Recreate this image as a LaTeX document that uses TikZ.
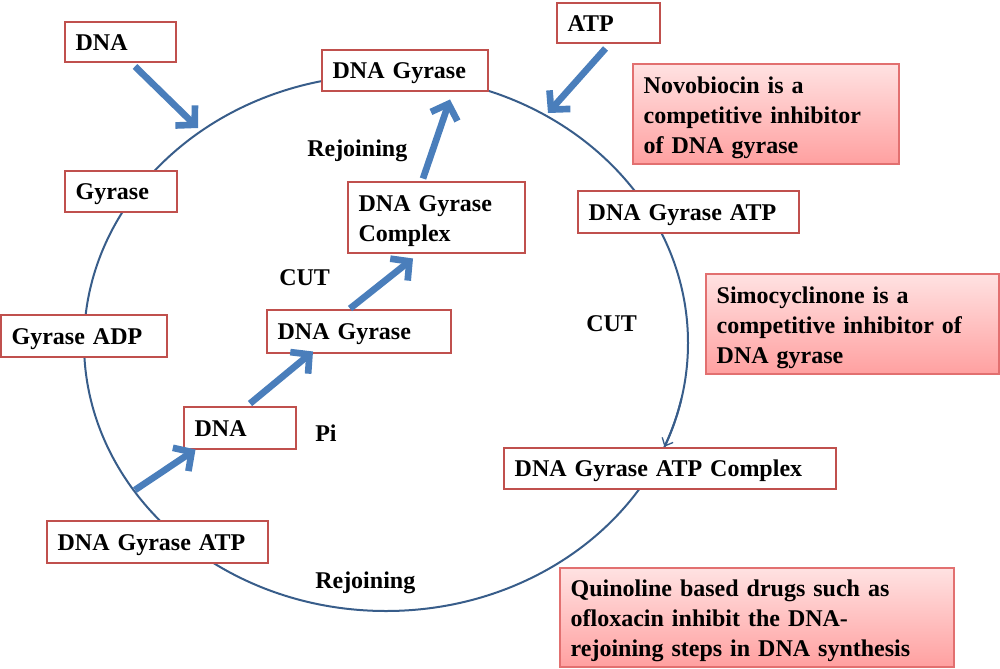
\documentclass[tikz,border=0pt]{standalone}
\usepackage{fontspec}
\setmainfont{Liberation Serif}
\usetikzlibrary{arrows.meta,calc}
\definecolor{boxred}{RGB}{192,80,77}
\definecolor{ringblue}{RGB}{56,93,138}
\definecolor{arrowblue}{RGB}{74,126,187}
\definecolor{pinktop}{RGB}{255,226,226}
\definecolor{pinkbot}{RGB}{255,160,160}
\definecolor{pinkedge}{RGB}{226,112,112}
\newcommand\firststrut{\rule{0pt}{17.5pt}}
\tikzset{
  txt/.style={font=\bfseries\fontsize{18}{22.5}\selectfont},
  rbox/.style={txt, draw=boxred, line width=2.2pt, fill=white, align=left, inner xsep=8pt, inner ysep=0pt},
  one/.style={text height=12pt, text depth=0pt},
  pbox/.style={txt, draw=pinkedge, line width=0.8pt, top color=pinktop, bottom color=pinkbot, align=left, inner xsep=8pt, inner ysep=0pt},
  lbl/.style={txt, anchor=base west, inner sep=0pt},
  bigarrow/.style={draw=arrowblue, line width=5pt, -{Straight Barb[length=10pt,width=21pt]}},
  ring/.style={draw=ringblue, line width=1.5pt}
}
\begin{document}
\begin{tikzpicture}[x=0.75pt,y=-0.75pt]
\useasboundingbox (0,0) rectangle (1000,668);
% cycle
\draw[ring] (386,343) ellipse [x radius=302, y radius=268];
\draw[ring, -{Straight Barb[length=5pt,width=9pt,line width=1pt]}] (681.4,398.7) arc[start angle=12, end angle=22.8, x radius=302, y radius=268];
\coordinate (e1) at (198,128);
\coordinate (e2) at (548,113);
\coordinate (e3) at (135,490);
% boxes
\node[rbox,one,minimum width=83.25pt,minimum height=30pt,text width=67.25pt] (dnaA) at (120.5,42) {DNA};
\node[rbox,one,minimum width=124.5pt,minimum height=30.75pt,text width=108.5pt] (gyrTop) at (405,70.5) {DNA Gyrase};
\node[rbox,one,minimum width=77.25pt,minimum height=30pt,text width=61.25pt] (atp) at (608.5,23) {ATP};
\node[rbox,one,minimum width=165.75pt,minimum height=31.5pt,text width=149.75pt] (gyrAtpR) at (688.5,212) {DNA Gyrase ATP};
\node[rbox,one,minimum width=249pt,minimum height=30.75pt,text width=233pt] (complexR) at (670,468.5) {DNA Gyrase ATP Complex};
\node[rbox,one,minimum width=165.75pt,minimum height=31.5pt,text width=149.75pt] (gyrAtpL) at (157.5,542) {DNA Gyrase ATP};
\node[rbox,one,minimum width=84pt,minimum height=31.5pt,text width=68pt] (dnaC) at (240,428) {DNA};
\node[rbox,one,minimum width=138pt,minimum height=32.25pt,text width=122pt] (gyrMid) at (359,331.5) {DNA Gyrase};
\node[rbox,minimum width=132.75pt,minimum height=53.25pt,text width=116.75pt] (complexC) at (436.5,217.5) {\firststrut DNA Gyrase\\Complex};
\node[rbox,one,minimum width=84pt,minimum height=30.75pt,text width=68pt] (gyrase) at (121,191.5) {Gyrase};
\node[rbox,one,minimum width=124.5pt,minimum height=31.5pt,text width=108.5pt] (gyrADP) at (84,336) {Gyrase ADP};
% pink notes
\node[pbox,minimum width=199.5pt,minimum height=75pt,text width=183.5pt] (novo) at (766,114) {\firststrut Novobiocin is a\\competitive inhibitor\\of DNA gyrase};
\node[pbox,minimum width=219.75pt,minimum height=75pt,text width=203.75pt] (simo) at (852.5,324) {\firststrut Simocyclinone is a\\competitive inhibitor of\\DNA gyrase};
\node[pbox,minimum width=295.5pt,minimum height=74.25pt,text width=279.5pt] (quin) at (757,617.5) {\firststrut Quinoline based drugs such as\\ofloxacin inhibit the DNA-\\rejoining steps in DNA synthesis};
% labels
\node[lbl] (rej1) at (307,156) {Rejoining};
\node[lbl] (cut1) at (279,285) {CUT};
\node[lbl] (cut2) at (586,331) {CUT};
\node[lbl] (pi) at (315,441) {Pi};
\node[lbl] (rej2) at (315,588) {Rejoining};
% arrows
\draw[bigarrow] ($(dnaA.south)+(14.5,3)$) -- (e1);
\draw[bigarrow] ($(atp.south)+(-3,4)$) -- (e2);
\draw[bigarrow] ($(complexC.north)+(-13.5,-2)$) -- ($(gyrTop.south)+(45,7)$);
\draw[bigarrow] ($(gyrMid.north)+(-9,0)$) -- ($(complexC.south)+(-23.5,4)$);
\draw[bigarrow] ($(dnaC.north)+(10,-2)$) -- ($(gyrMid.south)+(-46,-3)$);
\draw[bigarrow] (e3) -- ($(dnaC.south west)+(13,-1)$);
\end{tikzpicture}
\end{document}
